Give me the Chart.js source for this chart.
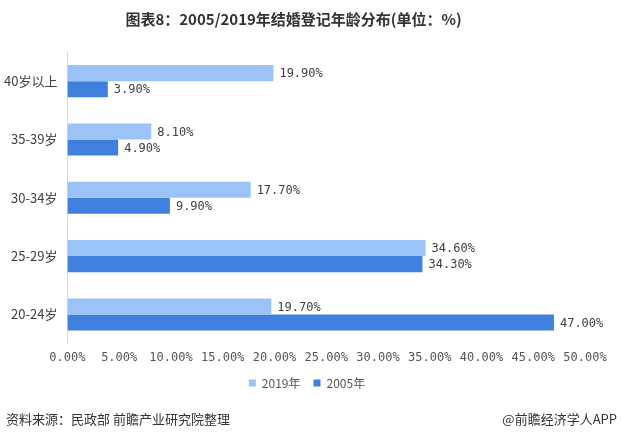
<!DOCTYPE html>
<html><head><meta charset="utf-8">
<script src="https://cdn.jsdelivr.net/npm/chart.js@4/dist/chart.umd.min.js"></script>
<style>
html,body{margin:0;padding:0;background:#fff;}
#wrap{position:relative;width:621px;height:439px;}
#foot-l{position:absolute;left:6px;top:409px;font:13px "Noto Sans CJK SC";color:#333;}
#foot-r{position:absolute;right:4px;top:409px;font:13px "Noto Sans CJK SC";color:#333;}
</style></head>
<body><div id="wrap"><canvas id="c" width="621" height="439"></canvas>
<div id="foot-l">资料来源：民政部 前瞻产业研究院整理</div>
<div id="foot-r">@前瞻经济学人APP</div></div>
<script>
const categories = ['40岁以上','35-39岁','30-34岁','25-29岁','20-24岁'];
const series2019 = [19.9, 8.1, 17.7, 34.6, 19.7];
const series2005 = [3.9, 4.9, 9.9, 34.3, 47.0];
const seriesNames = ['2019年','2005年'];
const xTicks = [0,5,10,15,20,25,30,35,40,45,50];

const labelPlugin = {
  id:'labels',
  afterLayout(chart){
    const lg = chart.legend;
    if(!lg) return;
    const d = 307 - (lg.left+lg.right)/2;
    lg.left += d; lg.right += d;
    if(lg.legendHitBoxes) lg.legendHitBoxes.forEach(h=>{h.left+=d;});
  },
  afterDatasetsDraw(chart){
    const ctx = chart.ctx;
    ctx.save();
    ctx.font = '12px "DejaVu Sans Mono"';
    ctx.fillStyle = '#404040';
    ctx.textBaseline = 'middle';
    ctx.textAlign = 'left';
    chart.data.datasets.forEach((ds,i)=>{
      chart.getDatasetMeta(i).data.forEach((bar,j)=>{
        ctx.fillText(ds.data[j].toFixed(2)+'%', bar.x+6, bar.y+1);
      });
    });
    ctx.restore();
  }
};

new Chart(document.getElementById('c'),{
  type:'bar',
  data:{labels:categories,datasets:[
    {label:seriesNames[0],data:series2019,backgroundColor:'#9cc3f7',categoryPercentage:0.55,barPercentage:1},
    {label:seriesNames[1],data:series2005,backgroundColor:'#3f80df',categoryPercentage:0.55,barPercentage:1}
  ]},
  options:{
    indexAxis:'y',responsive:false,animation:false,
    layout:{padding:{left:2,right:36,top:0,bottom:40}},
    plugins:{
      title:{display:true,text:'图表8：2005/2019年结婚登记年龄分布(单位：%)',font:{family:'"Noto Sans CJK SC"',size:15,weight:'bold'},color:'#333',padding:{top:10,bottom:24}},
      legend:{position:'bottom',labels:{boxWidth:7,boxHeight:7,font:{family:'"Noto Sans CJK SC"',size:12},color:'#555',padding:13}},
      tooltip:{enabled:false}
    },
    scales:{
      x:{min:0,max:50,afterBuildTicks(s){s.ticks=xTicks.map(v=>({value:v}));},
        ticks:{callback:v=>v.toFixed(2)+'%',font:{family:'"DejaVu Sans Mono"',size:12},color:'#555',maxRotation:0,padding:-1},
        grid:{display:false},border:{display:false}},
      y:{ticks:{font:{family:'"Noto Sans CJK SC"',size:13},color:'#404040',padding:2},
        grid:{display:false},border:{color:'#d9d9d9'}}
    }
  },
  plugins:[labelPlugin]
});
</script></body></html>
